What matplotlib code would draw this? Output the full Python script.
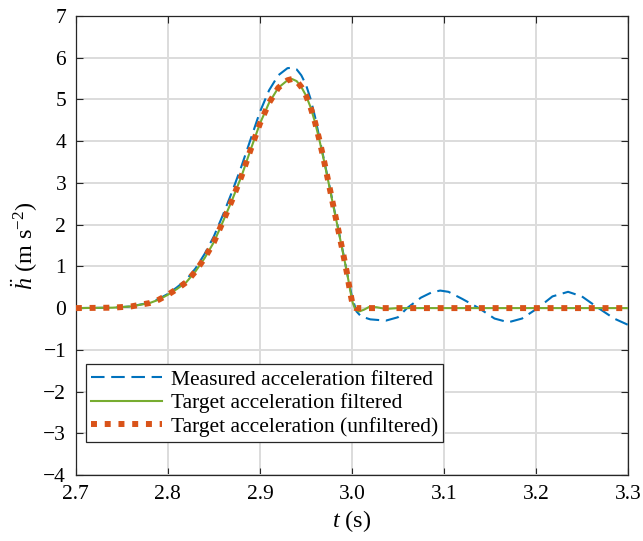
import numpy as np
import matplotlib
matplotlib.use("Agg")
import matplotlib.pyplot as plt

plt.rcParams['font.family'] = ['Liberation Serif', 'DejaVu Serif']
plt.rcParams['mathtext.fontset'] = 'custom'
plt.rcParams['mathtext.rm'] = 'Liberation Serif'
plt.rcParams['mathtext.it'] = 'Liberation Serif:italic'

# Target acceleration (unfiltered)
t_target = [2.70, 2.74, 2.76, 2.78, 2.79, 2.80, 2.81, 2.82, 2.83, 2.84, 2.85,
            2.86, 2.87, 2.88, 2.89, 2.90, 2.91, 2.92, 2.93, 2.935, 2.94, 2.945,
            2.95, 2.955, 2.96, 2.965, 2.97, 2.975, 2.98, 2.985, 2.99, 2.995,
            2.998, 3.001, 3.004, 3.30]
a_target = [0.0, 0.01, 0.04, 0.12, 0.20, 0.32, 0.46, 0.62, 0.88, 1.20, 1.58,
            2.08, 2.60, 3.16, 3.80, 4.42, 4.92, 5.28, 5.46, 5.49, 5.44, 5.30,
            5.10, 4.82, 4.45, 4.00, 3.50, 2.97, 2.43, 1.90, 1.36, 0.80,
            0.40, 0.06, 0.0, 0.0]

# Target acceleration filtered
t_filt = [2.70, 2.74, 2.76, 2.78, 2.79, 2.80, 2.81, 2.82, 2.83, 2.84, 2.85,
          2.86, 2.87, 2.88, 2.89, 2.90, 2.91, 2.92, 2.93, 2.935, 2.94, 2.945,
          2.95, 2.955, 2.96, 2.965, 2.97, 2.975, 2.98, 2.985, 2.99, 2.995,
          2.998, 3.001, 3.004, 3.008, 3.013, 3.019, 3.027, 3.037, 3.05, 3.30]
a_filt = [0.0, 0.01, 0.04, 0.12, 0.20, 0.32, 0.46, 0.62, 0.88, 1.20, 1.58,
          2.08, 2.60, 3.16, 3.80, 4.42, 4.92, 5.28, 5.46, 5.49, 5.44, 5.30,
          5.10, 4.82, 4.45, 4.00, 3.50, 2.97, 2.43, 1.90, 1.36, 0.82,
          0.44, 0.12, -0.04, -0.08, -0.04, 0.03, 0.02, -0.02, 0.0, 0.0]

# Measured acceleration filtered
t_meas = [2.70, 2.74, 2.76, 2.78, 2.79, 2.80, 2.81, 2.82, 2.83, 2.84, 2.85,
          2.86, 2.87, 2.88, 2.89, 2.90, 2.91, 2.92, 2.93, 2.935, 2.94, 2.945,
          2.95, 2.955, 2.96, 2.965, 2.97, 2.975, 2.98, 2.985, 2.99, 2.995,
          3.0, 3.005, 3.01, 3.02, 3.037, 3.05, 3.06, 3.075, 3.087, 3.096,
          3.105, 3.12, 3.138, 3.155, 3.17, 3.185, 3.202, 3.218, 3.235, 3.25,
          3.268, 3.285, 3.30]
a_meas = [0.0, 0.01, 0.04, 0.13, 0.22, 0.34, 0.50, 0.68, 0.95, 1.30, 1.72,
          2.24, 2.80, 3.40, 4.05, 4.70, 5.22, 5.58, 5.75, 5.76, 5.72, 5.58,
          5.36, 5.02, 4.58, 4.05, 3.52, 3.00, 2.45, 1.92, 1.38, 0.82,
          0.28, -0.08, -0.20, -0.27, -0.30, -0.22, 0.0, 0.25, 0.38, 0.42,
          0.39, 0.22, 0.0, -0.25, -0.34, -0.25, 0.0, 0.28, 0.39, 0.28,
          0.0, -0.25, -0.40]

x_ticks = [2.7, 2.8, 2.9, 3.0, 3.1, 3.2, 3.3]
x_labels = ['2.7', '2.8', '2.9', '3.0', '3.1', '3.2', '3.3']
y_ticks = list(range(-4, 8))

fig = plt.figure(figsize=(6.43, 5.41), dpi=100)
ax = fig.add_axes([0.118, 0.122, 0.8585, 0.8484])

ax.plot(t_meas, a_meas, color='#0072BD', lw=1.5, linestyle=(0, (6.5, 3.2)),
        label='Measured acceleration filtered', zorder=3)
ax.plot(t_filt, a_filt, color='#77AC30', lw=1.5,
        label='Target acceleration filtered', zorder=4)
ax.plot(t_target, a_target, color='#D95319', lw=4.3, linestyle=(0, (1.0, 1.3)),
        dash_capstyle='butt', label='Target acceleration (unfiltered)', zorder=5)

ax.set_xlim(2.7, 3.3)
ax.set_ylim(-4, 7)
ax.set_xticks(x_ticks)
ax.set_xticklabels(x_labels)
ax.set_yticks(y_ticks)
ax.grid(True, color='#dcdcdc', lw=1.4)
ax.set_axisbelow(True)
ax.tick_params(direction='in', top=True, right=True, length=5, width=0.8,
               labelsize=15.5, color='#262626', pad=7)
for s in ax.spines.values():
    s.set_color('#262626')
    s.set_linewidth(0.9)

ax.set_xlabel('$t$ (s)', fontsize=17.5, labelpad=3)
ax.set_ylabel(r'$\ddot{h}$ (m s$^{-2}$)', fontsize=17.5, labelpad=2)

leg = ax.legend(loc='lower left', bbox_to_anchor=(0.018, 0.072), fontsize=15.5,
                handlelength=3.3, handletextpad=0.4, borderpad=0.25,
                labelspacing=0.16, borderaxespad=0, fancybox=False, framealpha=1)
leg.get_frame().set_edgecolor('#262626')
leg.get_frame().set_linewidth(0.9)

fig.savefig('out.png', dpi=100)
